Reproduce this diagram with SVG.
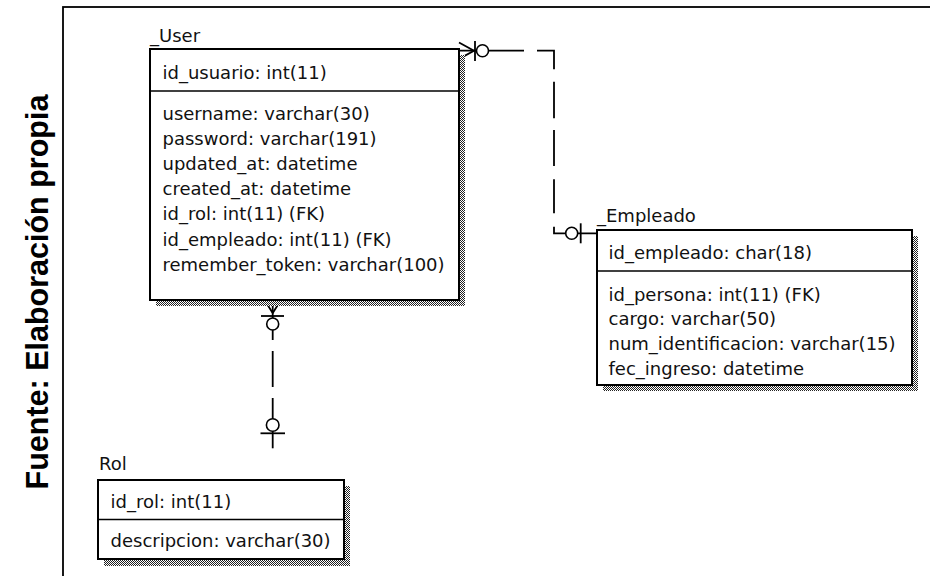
<svg xmlns="http://www.w3.org/2000/svg" width="930" height="576" viewBox="0 0 930 576">
<defs>
<pattern id="dots" width="2" height="2" patternUnits="userSpaceOnUse">
<rect width="2" height="2" fill="#fff"/>
<rect width="1" height="1" fill="#222"/>
<rect x="1" y="1" width="1" height="1" fill="#222"/>
</pattern>
</defs>
<style>
.t{font-family:"DejaVu Sans",Verdana,sans-serif;font-size:18px;fill:#111}
.box{fill:#fff;stroke:#000;stroke-width:2}
.sep{stroke:#000;stroke-width:1.6}
.sh{fill:url(#dots)}
.ln{fill:none;stroke:#000;stroke-width:1.8}
.o{fill:#fff;stroke:#000;stroke-width:1.6}
.cap{font-family:"Liberation Sans",Arial,sans-serif;font-weight:bold;font-size:30.5px;fill:#000}
</style>
<rect width="930" height="576" fill="#fff"/>
<rect x="63" y="7" width="890" height="600" fill="none" stroke="#000" stroke-width="1.8"/>
<text class="cap" transform="translate(48,292) rotate(-90)" text-anchor="middle">Fuente: Elaboración propia</text>

<g id="connectors">
<!-- User - Empleado -->
<path class="ln" d="M459 50.7 H524"/>
<path class="ln" d="M537 50.7 H554 V69.3"/>
<path class="ln" d="M554 81.7 V118.3"/>
<path class="ln" d="M554 130 V166"/>
<path class="ln" d="M554 179.3 V213.3"/>
<path class="ln" d="M554 226.7 V233.3 H597"/>
<path class="ln" d="M459 42.5 L474 50.7 L459 58.9"/>
<path class="ln" d="M475 41 V61"/>
<circle class="o" cx="482.5" cy="50.7" r="6"/>
<path class="ln" d="M580.7 223.3 V243.3"/>
<circle class="o" cx="571.7" cy="233.3" r="6"/>
<!-- User - Rol -->
<path class="ln" d="M272.7 300 V340"/>
<path class="ln" d="M272.7 351 V387"/>
<path class="ln" d="M272.7 398 V448.3"/>
<path class="ln" d="M264.5 300 L272.7 313 L281 300"/>
<path class="ln" d="M261 316 H284"/>
<circle class="o" cx="272.7" cy="324" r="6"/>
<path class="ln" d="M260.5 433.3 H285"/>
<circle class="o" cx="272.7" cy="425" r="6.3"/>
</g>

<g id="user">
<text class="t" x="150" y="42">_User</text>
<rect class="sh" x="156" y="55" width="309" height="251"/>
<rect class="box" x="150" y="49" width="309" height="251"/>
<line class="sep" x1="150" y1="91" x2="459" y2="91"/>
<text class="t" x="162.5" y="78.5">id_usuario: int(11)</text>
<text class="t" x="162.5" y="119.5">username: varchar(30)</text>
<text class="t" x="162.5" y="144.7">password: varchar(191)</text>
<text class="t" x="162.5" y="169.9">updated_at: datetime</text>
<text class="t" x="162.5" y="195.1">created_at: datetime</text>
<text class="t" x="162.5" y="220.3">id_rol: int(11) (FK)</text>
<text class="t" x="162.5" y="245.5">id_empleado: int(11) (FK)</text>
<text class="t" x="162.5" y="270.7">remember_token: varchar(100)</text>
</g>

<g id="empleado">
<text class="t" x="597" y="222">_Empleado</text>
<rect class="sh" x="603" y="236" width="315" height="155"/>
<rect class="box" x="597" y="230" width="315" height="155"/>
<line class="sep" x1="597" y1="271" x2="912" y2="271"/>
<text class="t" x="608.5" y="258.5">id_empleado: char(18)</text>
<text class="t" x="608.5" y="300.5">id_persona: int(11) (FK)</text>
<text class="t" x="608.5" y="325.3">cargo: varchar(50)</text>
<text class="t" x="608.5" y="350.1">num_identificacion: varchar(15)</text>
<text class="t" x="608.5" y="374.9">fec_ingreso: datetime</text>
</g>

<g id="rol">
<text class="t" x="99" y="470">Rol</text>
<rect class="sh" x="104" y="486" width="246" height="80"/>
<rect class="box" x="98" y="480" width="246" height="79"/>
<line class="sep" x1="98" y1="519.5" x2="344" y2="519.5"/>
<text class="t" x="110.5" y="508">id_rol: int(11)</text>
<text class="t" x="110.5" y="547">descripcion: varchar(30)</text>
</g>
</svg>
